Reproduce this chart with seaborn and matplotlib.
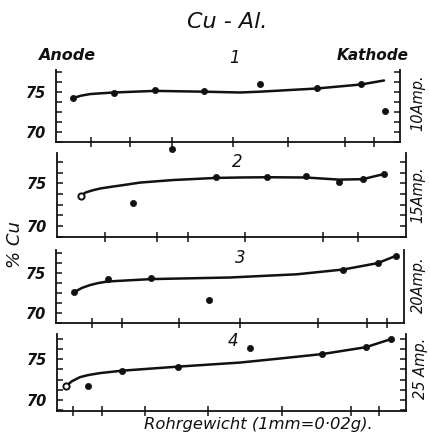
import matplotlib
matplotlib.use("Agg")
import matplotlib.pyplot as plt
import seaborn as sns
import numpy as np
import pandas as pd

# ---------------- data (x in mm along the tube, y in % Cu) ----------------
p1_x = [17, 58, 99, 148, 204, 261, 305, 329]
p1_y = [74.2, 74.8, 75.2, 75.1, 75.9, 75.4, 75.9, 72.6]
p1_curve_x = [17, 25, 34, 45, 58, 99, 148, 184, 204, 261, 305, 328]
p1_curve_y = [74.2, 74.5, 74.7, 74.8, 74.9, 75.1, 75.0, 74.9, 75.0, 75.4, 75.9, 76.4]
p1_xticks = [34.7, 74, 116, 177, 232, 289, 318]

p2_x = [24.7, 76.7, 116.3, 160, 210.7, 250, 283.3, 306.7, 328]
p2_y = [73.56, 72.74, 79.0, 75.73, 75.73, 75.88, 75.21, 75.49, 76.12]
p2_curve_x = [24.7, 30, 37, 44, 55, 67, 84, 117, 160, 184, 211, 250, 283, 307, 317, 328]
p2_curve_y = [73.56, 73.95, 74.2, 74.4, 74.6, 74.8, 75.1, 75.4, 75.65, 75.7, 75.73, 75.7,
              75.45, 75.5, 75.8, 76.1]
p2_xticks = [49, 100.7, 132, 189, 267, 302]

p3_x = [18, 51.7, 95, 153.3, 287.3, 321.7, 339.7]
p3_y = [72.55, 74.2, 74.3, 71.6, 75.4, 76.2, 77.1]
p3_curve_x = [18, 26, 34, 42, 51.7, 95, 174, 240.7, 287.3, 321.7, 339.7]
p3_curve_y = [72.55, 73.1, 73.45, 73.7, 73.9, 74.2, 74.4, 74.8, 75.4, 76.2, 77.1]
p3_xticks = [35.7, 65.7, 123.3, 184, 262.3, 311.3, 330.7]

p4_x = [10, 31.7, 66.3, 122.3, 194, 266.3, 310, 335]
p4_y = [71.7, 71.7, 73.6, 74.1, 76.4, 75.65, 76.5, 77.5]
p4_curve_x = [10, 16, 24, 32, 44, 66.3, 122.3, 184, 224, 266.3, 310, 335]
p4_curve_y = [71.7, 72.3, 72.8, 73.05, 73.3, 73.6, 74.1, 74.6, 75.1, 75.65, 76.5, 77.5]
p4_xticks = [17, 45.5, 88.5, 151.5, 226, 294.7, 323]

panel_numbers = ["1", "2", "3", "4"]
currents = ["10Amp.", "15Amp.", "20Amp.", "25 Amp."]
ring_first = [False, True, False, True]
right_ticks = [True, True, False, True]
yticks_major = [70, 75]

# ---------------- figure ----------------
sns.set_theme(style="ticks")
plt.rcParams['font.family'] = ['DejaVu Sans']

W, H = 430, 438
fig = plt.figure(figsize=(W / 100, H / 100), dpi=100)

boxes = [(56, 70, 400, 141.7), (56.7, 152.7, 405.7, 236.5),
         (56, 250, 404, 323.3), (56.7, 334.3, 405.7, 410.5)]
ylims = [(68.75, 77.71), (68.76, 78.62), (68.67, 77.84), (68.68, 78.09)]

panels = [(p1_x, p1_y, p1_curve_x, p1_curve_y, p1_xticks),
          (p2_x, p2_y, p2_curve_x, p2_curve_y, p2_xticks),
          (p3_x, p3_y, p3_curve_x, p3_curve_y, p3_xticks),
          (p4_x, p4_y, p4_curve_x, p4_curve_y, p4_xticks)]

ink = "#111111"
for i, ((px, py, cx, cy, xt), (l, t, r, b), yl) in enumerate(zip(panels, boxes, ylims)):
    ax = fig.add_axes([l / W, 1 - b / H, (r - l) / W, (b - t) / H])
    ax.set_facecolor("white")
    curve = pd.DataFrame({"x": cx, "y": cy})
    sns.lineplot(data=curve, x="x", y="y", ax=ax, color=ink, lw=1.8, sort=False)
    for ln in ax.lines:
        ln.set_solid_joinstyle("round")
        ln.set_solid_capstyle("round")
    pts = pd.DataFrame({"x": px, "y": py})
    if ring_first[i]:
        sns.scatterplot(data=pts.iloc[1:], x="x", y="y", ax=ax, color=ink, s=20,
                        edgecolor=ink, linewidth=0.5, zorder=5, clip_on=False)
        sns.scatterplot(data=pts.iloc[:1], x="x", y="y", ax=ax, facecolor="white",
                        s=20, edgecolor=ink, linewidth=1.4, zorder=6, clip_on=False)
    else:
        sns.scatterplot(data=pts, x="x", y="y", ax=ax, color=ink, s=20,
                        edgecolor=ink, linewidth=0.5, zorder=5, clip_on=False)
    ax.set_xlim(l - 56, r - 56)
    ax.set_ylim(*yl)
    ax.set_xlabel("")
    ax.set_ylabel("")
    ax.spines["top"].set_visible(False)
    for s in ["left", "right", "bottom"]:
        ax.spines[s].set_linewidth(1.3)
        ax.spines[s].set_color(ink)
    ax.spines["right"].set_visible(True)
    ax.set_xticks(xt)
    ax.set_xticklabels([])
    ax.tick_params(axis="x", direction="inout", length=7, width=1.1, color=ink)
    minor = np.arange(68.75, yl[1] + 0.01, 1.25)
    ax.set_yticks(yticks_major)
    ax.set_yticks(minor, minor=True)
    ax.set_yticklabels([str(v) for v in yticks_major], fontsize=10.5,
                       fontweight="bold", fontstyle="italic", color=ink)
    ax.tick_params(axis="y", which="both", direction="in", length=4, width=1.1,
                   color=ink, left=True, right=right_ticks[i], pad=7)

def ftext(x, y, s, **kw):
    fig.text(x / W, 1 - y / H, s, ha="center", va="center", color=ink, **kw)

ftext(227, 22, "Cu - Al.", fontsize=16, fontstyle="italic")
ftext(67, 56, "Anode", fontsize=11.5, fontstyle="italic", fontweight="bold")
ftext(373, 56, "Kathode", fontsize=11, fontstyle="italic", fontweight="bold")
num_pos = [(235, 58), (237, 162), (240, 258), (233, 341)]
for (x, y), s in zip(num_pos, panel_numbers):
    ftext(x, y, s, fontsize=12, fontstyle="italic")
amp_pos = [(418, 103), (418, 195), (418, 285), (421, 368)]
for (x, y), s in zip(amp_pos, currents):
    ftext(x, y, s, fontsize=10.5, fontstyle="italic", rotation=90)
ftext(15, 245, "% Cu", fontsize=13, fontstyle="italic", rotation=90)
ftext(258, 425, "Rohrgewicht (1mm=0·02g).", fontsize=11.8, fontstyle="italic")

fig.savefig("out.png", dpi=100, facecolor="white")
